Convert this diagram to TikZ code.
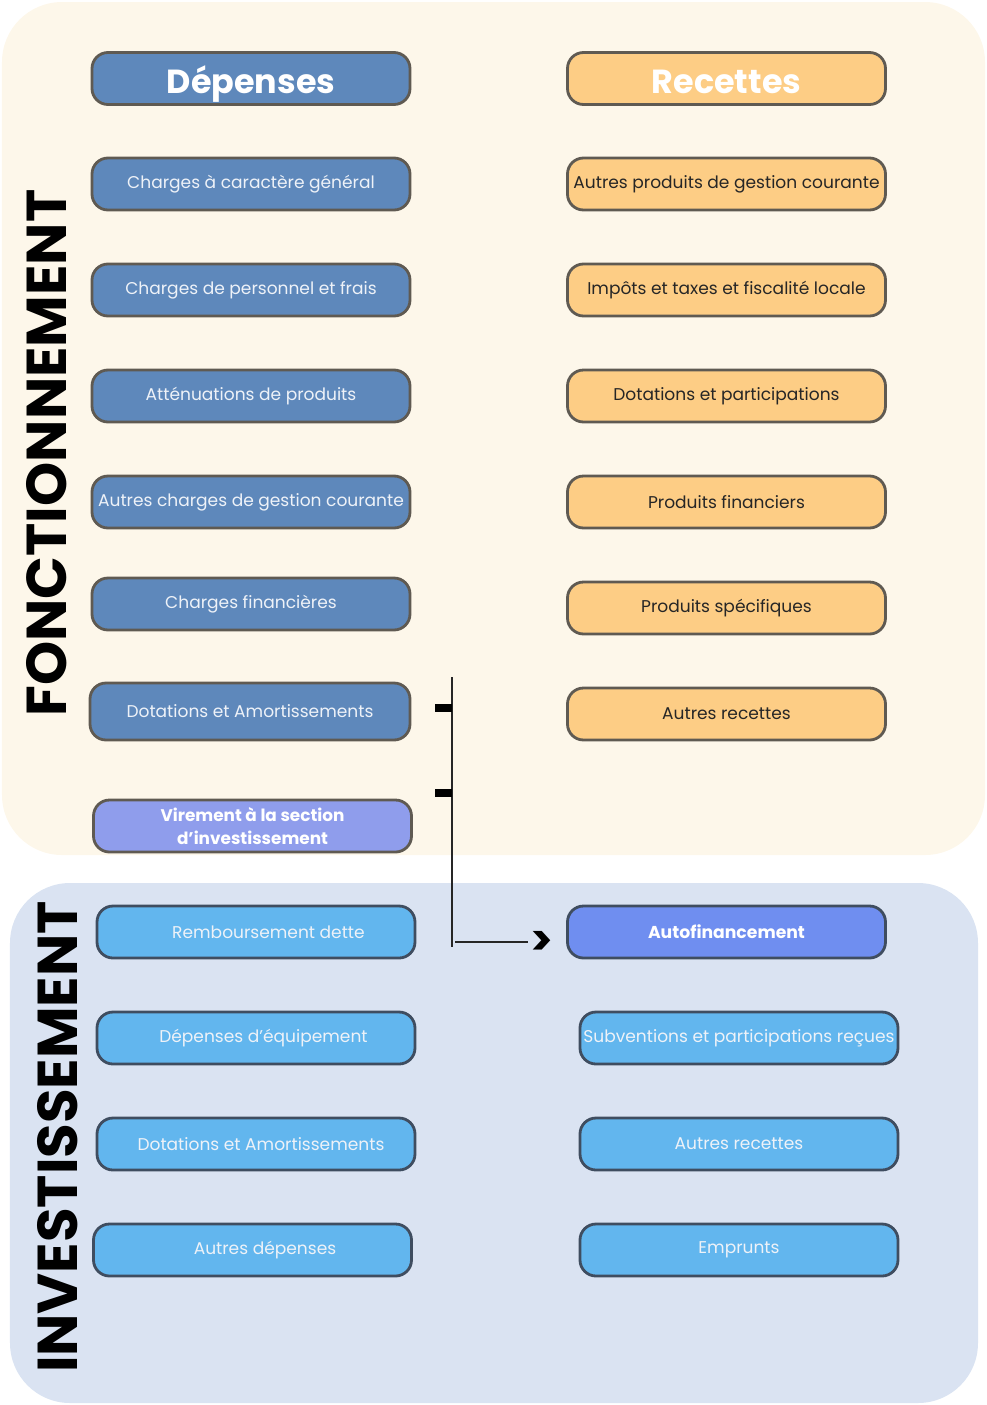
\documentclass[tikz,border=0pt]{standalone}
\usepackage{fontspec}
\setmainfont{Poppins}
\usepackage{tikz}
\usetikzlibrary{positioning}
\definecolor{creme}{HTML}{FDF7EA}
\definecolor{bleuclair}{HTML}{DAE3F2}
\definecolor{depbleu}{HTML}{5E88BB}
\definecolor{recorange}{HTML}{FDCD85}
\definecolor{virviolet}{HTML}{8F9DEC}
\definecolor{autobleu}{HTML}{6F8EF0}
\definecolor{invbleu}{HTML}{62B6EE}
\definecolor{bordgris}{HTML}{5F5A52}
\definecolor{bordbleu}{HTML}{3F4D60}
\definecolor{txtclair}{HTML}{EEF2F8}
\tikzset{every node/.style={font=\fontsize{9.7}{11}\selectfont}}
\tikzset{
  boite/.style={draw=bordgris, line width=1.6pt, rounded corners=0.32cm,
    minimum width=6.36cm, minimum height=1.04cm, inner sep=0pt, align=center},
  dep/.style={boite, fill=depbleu, text=txtclair},
  rec/.style={boite, fill=recorange, text=black!85},
  inv/.style={boite, fill=invbleu, draw=bordbleu, text=txtclair},
  titre/.style={font=\fontsize{19}{22}\selectfont\bfseries, text=white,
    text height=17pt, text depth=0pt},
  section/.style={font=\fontsize{32}{34}\selectfont\bfseries, rotate=90}
}

\begin{document}
\begin{tikzpicture}
  \useasboundingbox (0,0) rectangle (19.74,-28.1);
  % fonds des deux sections
  \fill[creme, rounded corners=1.2cm] (0.04,-0.04) rectangle (19.7,-17.1);
  \fill[bleuclair, rounded corners=1.2cm] (0.2,-17.66) rectangle (19.56,-28.06);
  \node[section] (fonc) at (0.94,-9.06) {FONCTIONNEMENT};
  \node[section] (inv) at (1.16,-22.74) {INVESTISSEMENT};
  % fonctionnement
  \node[dep, titre] (dep) at (5.02,-1.57) {Dépenses};
  \node[rec, titre, text=white] (rec) at (14.53,-1.57) {Recettes};
  \node[dep] (chg) at (5.02,-3.68) {Charges à caractère général};
  \node[dep] (pers) at (5.02,-5.8) {Charges de personnel et frais};
  \node[dep] (att) at (5.02,-7.92) {Atténuations de produits};
  \node[dep] (acg) at (5.02,-10.04) {Autres charges de gestion courante};
  \node[dep] (fin) at (5.02,-12.08) {Charges financières};
  \node[dep, minimum width=6.4cm, minimum height=1.14cm] (dotf) at (5.0,-14.23) {Dotations et Amortissements};
  \node[boite, fill=virviolet, text=white, font=\fontsize{9.6}{13}\selectfont\bfseries] (vir) at (5.05,-16.52) {Virement à la section\\d’investissement};
  \node[rec] (apg) at (14.53,-3.68) {Autres produits de gestion courante};
  \node[rec] (imp) at (14.53,-5.8) {Impôts et taxes et fiscalité locale};
  \node[rec] (dotp) at (14.53,-7.92) {Dotations et participations};
  \node[rec] (pfin) at (14.53,-10.04) {Produits financiers};
  \node[rec] (pspe) at (14.53,-12.16) {Produits spécifiques};
  \node[rec] (arec) at (14.53,-14.28) {Autres recettes};
  % investissement
  \node[inv] (remb) at (5.12,-18.64) {\hspace*{0.5cm}Remboursement dette};
  \node[inv] (equip) at (5.12,-20.76) {\hspace*{0.3cm}Dépenses d’équipement};
  \node[inv] (doti) at (5.12,-22.88) {\hspace*{0.2cm}Dotations et Amortissements};
  \node[inv] (adep) at (5.05,-25.0) {\hspace*{0.5cm}Autres dépenses};
  \node[boite, fill=autobleu, draw=bordbleu, text=white, font=\fontsize{9.8}{11}\selectfont\bfseries] (auto) at (14.53,-18.64) {Autofinancement};
  \node[inv] (subv) at (14.78,-20.76) {Subventions et participations reçues};
  \node[inv] (arei) at (14.78,-22.88) {Autres recettes};
  \node[inv] (empr) at (14.78,-25.0) {Emprunts};
  % liaison vers l'autofinancement
  \coordinate (haut) at (9.04,-13.54);
  \coordinate (bas) at (9.04,-18.94);
  \coordinate (t1) at (8.7,-14.16);
  \coordinate (t2) at (8.7,-15.86);
  \coordinate (h1) at (9.1,-18.84);
  \coordinate (h2) at (10.56,-18.84);
  \draw[line width=1pt, black!85] (haut) -- (bas);
  \draw[line width=4.5pt] (t1) -- (t1 -| haut);
  \draw[line width=4.5pt] (t2) -- (t2 -| haut);
  \draw[line width=0.9pt, black!85] (h1) -- (h2);
  \node[font=\fontsize{24}{24}\selectfont\bfseries, right=1pt of h2, inner sep=0pt, yshift=-1pt] (fl) {>};
\end{tikzpicture}
\end{document}
